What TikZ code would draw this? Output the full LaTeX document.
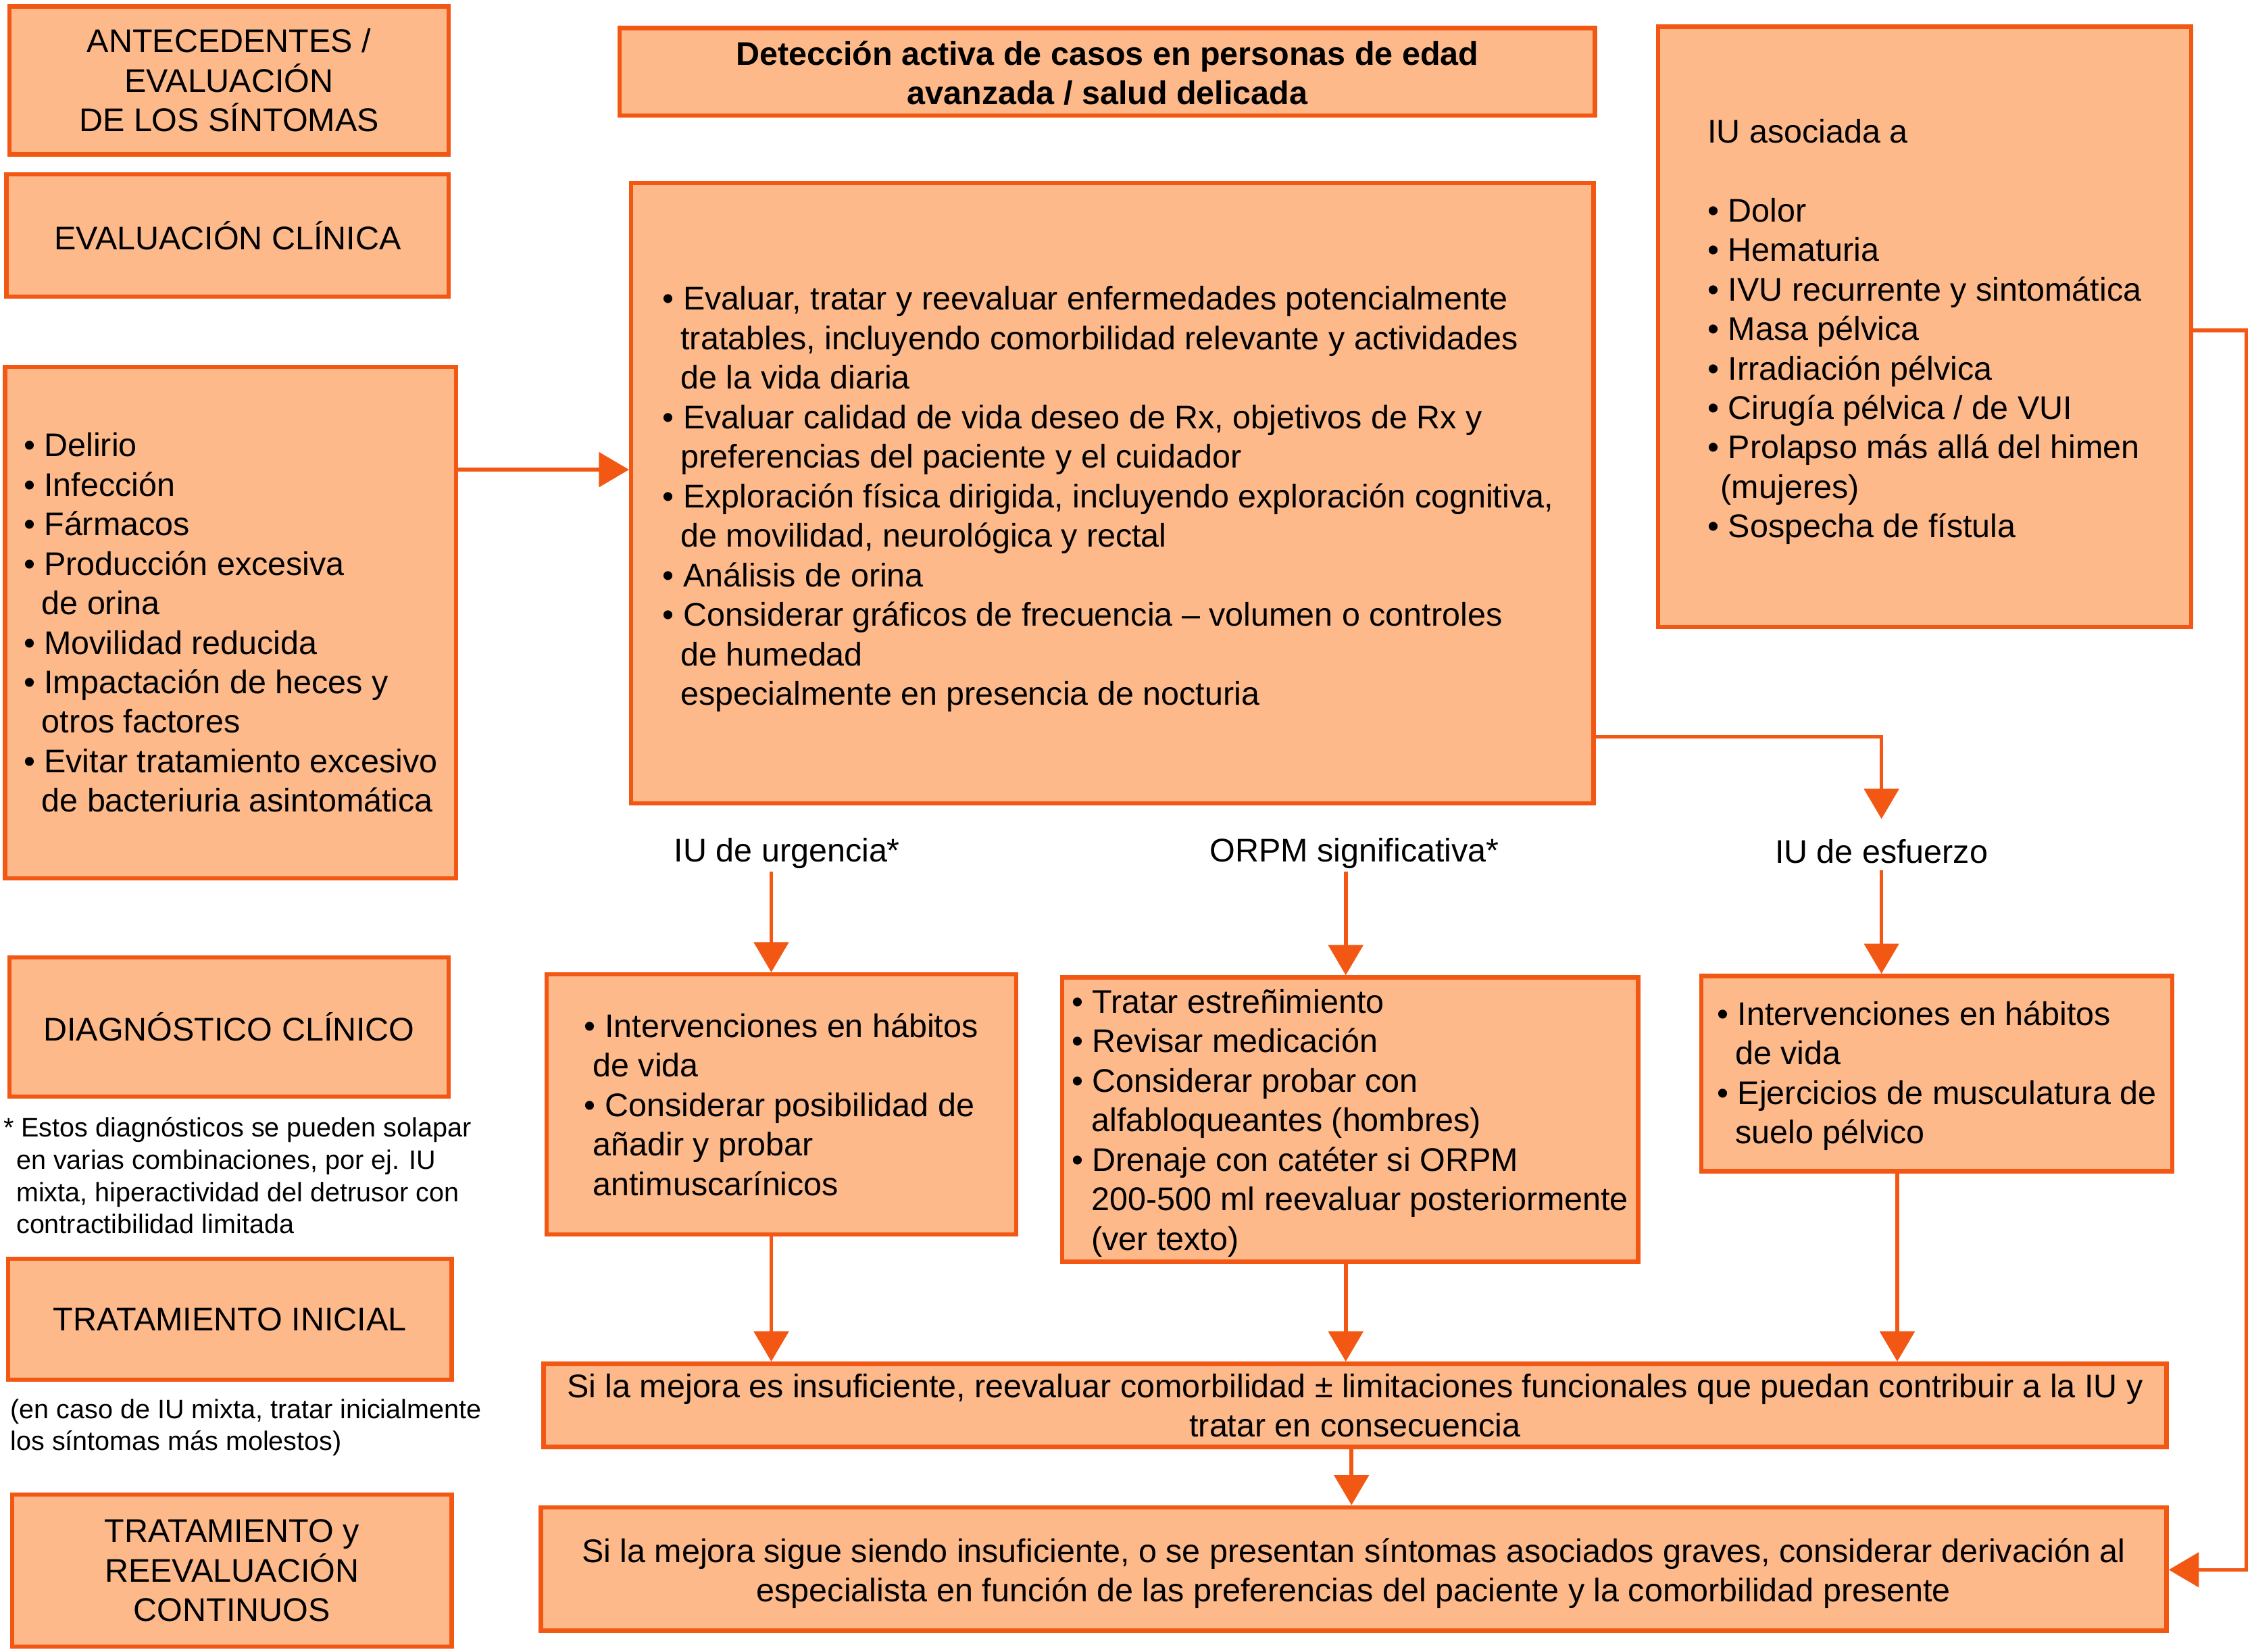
\documentclass[tikz,border=0pt]{standalone}
\usepackage{fontspec}
\setmainfont{Liberation Sans}
\usetikzlibrary{arrows.meta}
\definecolor{boxfill}{RGB}{253,185,138}
\definecolor{boxline}{RGB}{242,88,20}
\newcommand{\contind}{\hspace*{0.55em}}
\begin{document}
\begin{tikzpicture}[x=0.5pt,y=-0.5pt,
  box/.style={draw=boxline, fill=boxfill, line width=1.5pt, inner sep=2pt, font=\fontsize{11.4}{13.75}\selectfont},
  lbox/.style={box, align=left},
  cbox/.style={box, align=center},
  txt/.style={inner sep=0pt, font=\fontsize{11.4}{13.75}\selectfont},
  lbl/.style={inner sep=0pt, font=\fontsize{11.4}{13.75}\selectfont},
  note/.style={inner sep=0pt, align=left, anchor=west, font=\fontsize{9.3}{11.2}\selectfont},
  arr/.style={draw=boxline, line width=1.3pt, -{Triangle[length=10.5pt,width=12pt]}}
]
\useasboundingbox (0,0) rectangle (1568,1150);

% left column
\node[cbox, minimum width=153pt, minimum height=51.5pt] (ante) at (159.5,56) {ANTECEDENTES /\\EVALUACIÓN\\DE LOS SÍNTOMAS};
\node[cbox, minimum width=154pt, minimum height=42.5pt] (evcl) at (158.5,164) {EVALUACIÓN CLÍNICA};
\node[lbox, minimum width=157pt, minimum height=178pt] (list) at (160.5,433.5) {• Delirio\\• Infección\\• Fármacos\\• Producción excesiva\\\contind de orina\\• Movilidad reducida\\• Impactación de heces y\\\contind otros factores\\• Evitar tratamiento excesivo\\\contind de bacteriuria asintomática};
\node[cbox, minimum width=153pt, minimum height=48.5pt] (diag) at (159.5,715) {DIAGNÓSTICO CLÍNICO};
\node[note] (fn) at (2,818.5) {* Estos diagnósticos se pueden solapar\\\hspace*{4.5pt}en varias combinaciones, por ej. IU\\\hspace*{4.5pt}mixta, hiperactividad del detrusor con\\\hspace*{4.5pt}contractibilidad limitada};
\node[cbox, minimum width=154.5pt, minimum height=42pt] (trin) at (160,918.5) {TRATAMIENTO INICIAL};
\node[note] (mx) at (7,994) {(en caso de IU mixta, tratar inicialmente\\los síntomas más molestos)};
\node[cbox, minimum width=153pt, minimum height=53pt] (trre) at (161.5,1093.5) {TRATAMIENTO y\\REEVALUACIÓN\\CONTINUOS};

% top
\node[box, minimum width=339.5pt, minimum height=30.5pt] (det) at (771,50) {};
\node[txt, align=center, font=\fontsize{11.4}{13.75}\selectfont\bfseries] (detT) at ([yshift=-0.5pt]det.center) {Detección activa de casos en personas de edad\\avanzada / salud delicada};
\node[box, minimum width=335pt, minimum height=216pt] (main) at (774.5,343.5) {};
\node[txt, align=left] (mainT) at ([xshift=-1.5pt,yshift=-2pt]main.center) {• Evaluar, tratar y reevaluar enfermedades potencialmente\\\contind tratables, incluyendo comorbilidad relevante y actividades\\\contind de la vida diaria\\• Evaluar calidad de vida deseo de Rx, objetivos de Rx y\\\contind preferencias del paciente y el cuidador\\• Exploración física dirigida, incluyendo exploración cognitiva,\\\contind de movilidad, neurológica y rectal\\• Análisis de orina\\• Considerar gráficos de frecuencia – volumen o controles\\\contind de humedad\\\contind especialmente en presencia de nocturia};
\node[box, minimum width=185.5pt, minimum height=209pt] (iu) at (1340,227.5) {};
\node[txt, align=left] (iuT) at ([yshift=-1.75pt]iu.center) {IU asociada a\\[13.75pt]• Dolor\\• Hematuria\\• IVU recurrente y sintomática\\• Masa pélvica\\• Irradiación pélvica\\• Cirugía pélvica / de VUI\\• Prolapso más allá del himen\\\hspace*{0.4em}(mujeres)\\• Sospecha de fístula};

% labels
\node[lbl] (lurg) at (548,594) {IU de urgencia*};
\node[lbl] (lorpm) at (943,594) {ORPM significativa*};
\node[lbl] (lesf) at (1310,593) {IU de esfuerzo};

% middle boxes
\node[lbox, minimum width=163.5pt, minimum height=90.5pt] (urg) at (544,769) {• Intervenciones en hábitos\\\hspace*{0.26em}de vida\\• Considerar posibilidad de\\\hspace*{0.26em}añadir y probar\\\hspace*{0.26em}antimuscarínicos};
\node[box, minimum width=200.5pt, minimum height=99pt] (orpm) at (940,779.5) {};
\node[txt, align=left] (orpmT) at ([yshift=-1.25pt]orpm.center) {• Tratar estreñimiento\\• Revisar medicación\\• Considerar probar con\\\hspace*{0.6em}alfabloqueantes (hombres)\\• Drenaje con catéter si ORPM\\\hspace*{0.6em}200-500 ml reevaluar posteriormente\\\hspace*{0.6em}(ver texto)};
\node[box, minimum width=164pt, minimum height=68pt] (esf) at (1348.5,747.5) {};
\node[txt, align=left] (esfT) at ([yshift=-0.75pt]esf.center) {• Intervenciones en hábitos\\\contind de vida\\• Ejercicios de musculatura de\\\contind suelo pélvico};

% bottom boxes
\node[cbox, minimum width=565pt, minimum height=29pt] (mej1) at (943.5,978.5) {Si la mejora es insuficiente, reevaluar comorbilidad ± limitaciones funcionales que puedan contribuir a la IU y\\tratar en consecuencia};
\node[box, minimum width=566pt, minimum height=43pt] (mej2) at (942.5,1092.5) {};
\node[txt, align=center] (mej2T) at ([yshift=-1.5pt]mej2.center) {Si la mejora sigue siendo insuficiente, o se presentan síntomas asociados graves, considerar derivación al\\especialista en función de las preferencias del paciente y la comorbilidad presente};

% helper coordinates
\coordinate (yA) at (0,327);
\coordinate (yB) at (0,513);
\coordinate (yC) at (0,230);
\coordinate (yD) at (0,1093);
\coordinate (xU) at (537,0);
\coordinate (xO) at (937,0);
\coordinate (xE) at (1321,0);
\coordinate (xM) at (941,0);
\coordinate (xR) at (1564,0);

% connectors
\draw[arr] (list.east |- yA) -- (main.west |- yA);
\draw[arr, shorten >=7pt] (main.east |- yB) -| (lesf.north);
\draw[arr, shorten <=1pt] (lurg.south -| xU) -- (urg.north -| xU);
\draw[arr, shorten <=1pt] (lorpm.south -| xO) -- (orpm.north -| xO);
\draw[arr, shorten <=2pt] (lesf.south) -- (esf.north -| lesf.south);
\draw[arr] (urg.south -| xU) -- (mej1.north -| xU);
\draw[arr] (orpm.south -| xO) -- (mej1.north -| xO);
\draw[arr] (esf.south -| xE) -- (mej1.north -| xE);
\draw[arr] (mej1.south -| xM) -- (mej2.north -| xM);
\draw[arr] (iu.east |- yC) -| (xR |- yD) -- (mej2.east |- yD);
\end{tikzpicture}
\end{document}
